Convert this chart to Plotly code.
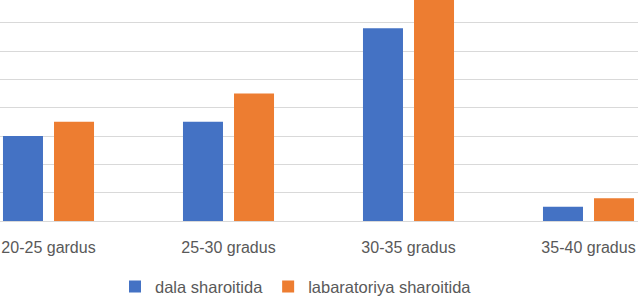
import plotly.graph_objects as go

categories = ["20-25 gardus", "25-30 gradus", "30-35 gradus", "35-40 gradus"]
dala = [30, 35, 68, 5]
labaratoriya = [35, 45, 78, 8]
series_names = ["dala sharoitida", "labaratoriya sharoitida"]
colors = ["#4472C4", "#ED7D31"]

fig = go.Figure()
fig.add_trace(go.Bar(x=list(range(len(categories))), y=dala, name=series_names[0],
                     marker=dict(color=colors[0], line=dict(width=0))))
fig.add_trace(go.Bar(x=list(range(len(categories))), y=labaratoriya, name=series_names[1],
                     marker=dict(color=colors[1], line=dict(width=0))))

tick_font = dict(family="Liberation Sans, Arial, sans-serif", size=16, color="#595959")
legend_font = dict(family="Liberation Sans, Arial, sans-serif", size=16.5, color="#595959")

fig.update_layout(
    width=638, height=297,
    margin=dict(l=0, r=0, t=0, b=76, autoexpand=False),
    barmode="group", bargap=0.433, bargroupgap=0.216,
    plot_bgcolor="white", paper_bgcolor="white",
    font=tick_font,
    showlegend=True,
    legend=dict(orientation="h", x=115/638, xanchor="left", y=-0.218, yanchor="top",
                font=legend_font, itemwidth=30, traceorder="normal"),
    xaxis=dict(tickmode="array", tickvals=list(range(len(categories))), ticktext=categories,
               range=[-48.5/180, (638-48.5)/180], showgrid=False, zeroline=False,
               showline=False, ticks="", tickfont=tick_font, automargin=False,
               ticklabelstandoff=15),
    yaxis=dict(range=[0, 78], dtick=10, showgrid=True, gridcolor="#d9d9d9", gridwidth=1,
               zeroline=True, zerolinecolor="#d9d9d9", zerolinewidth=1,
               showticklabels=False, ticks="", automargin=False),
)

fig.write_html("out.html", config={"displayModeBar": False},
               post_script="document.body.style.margin='0';")
